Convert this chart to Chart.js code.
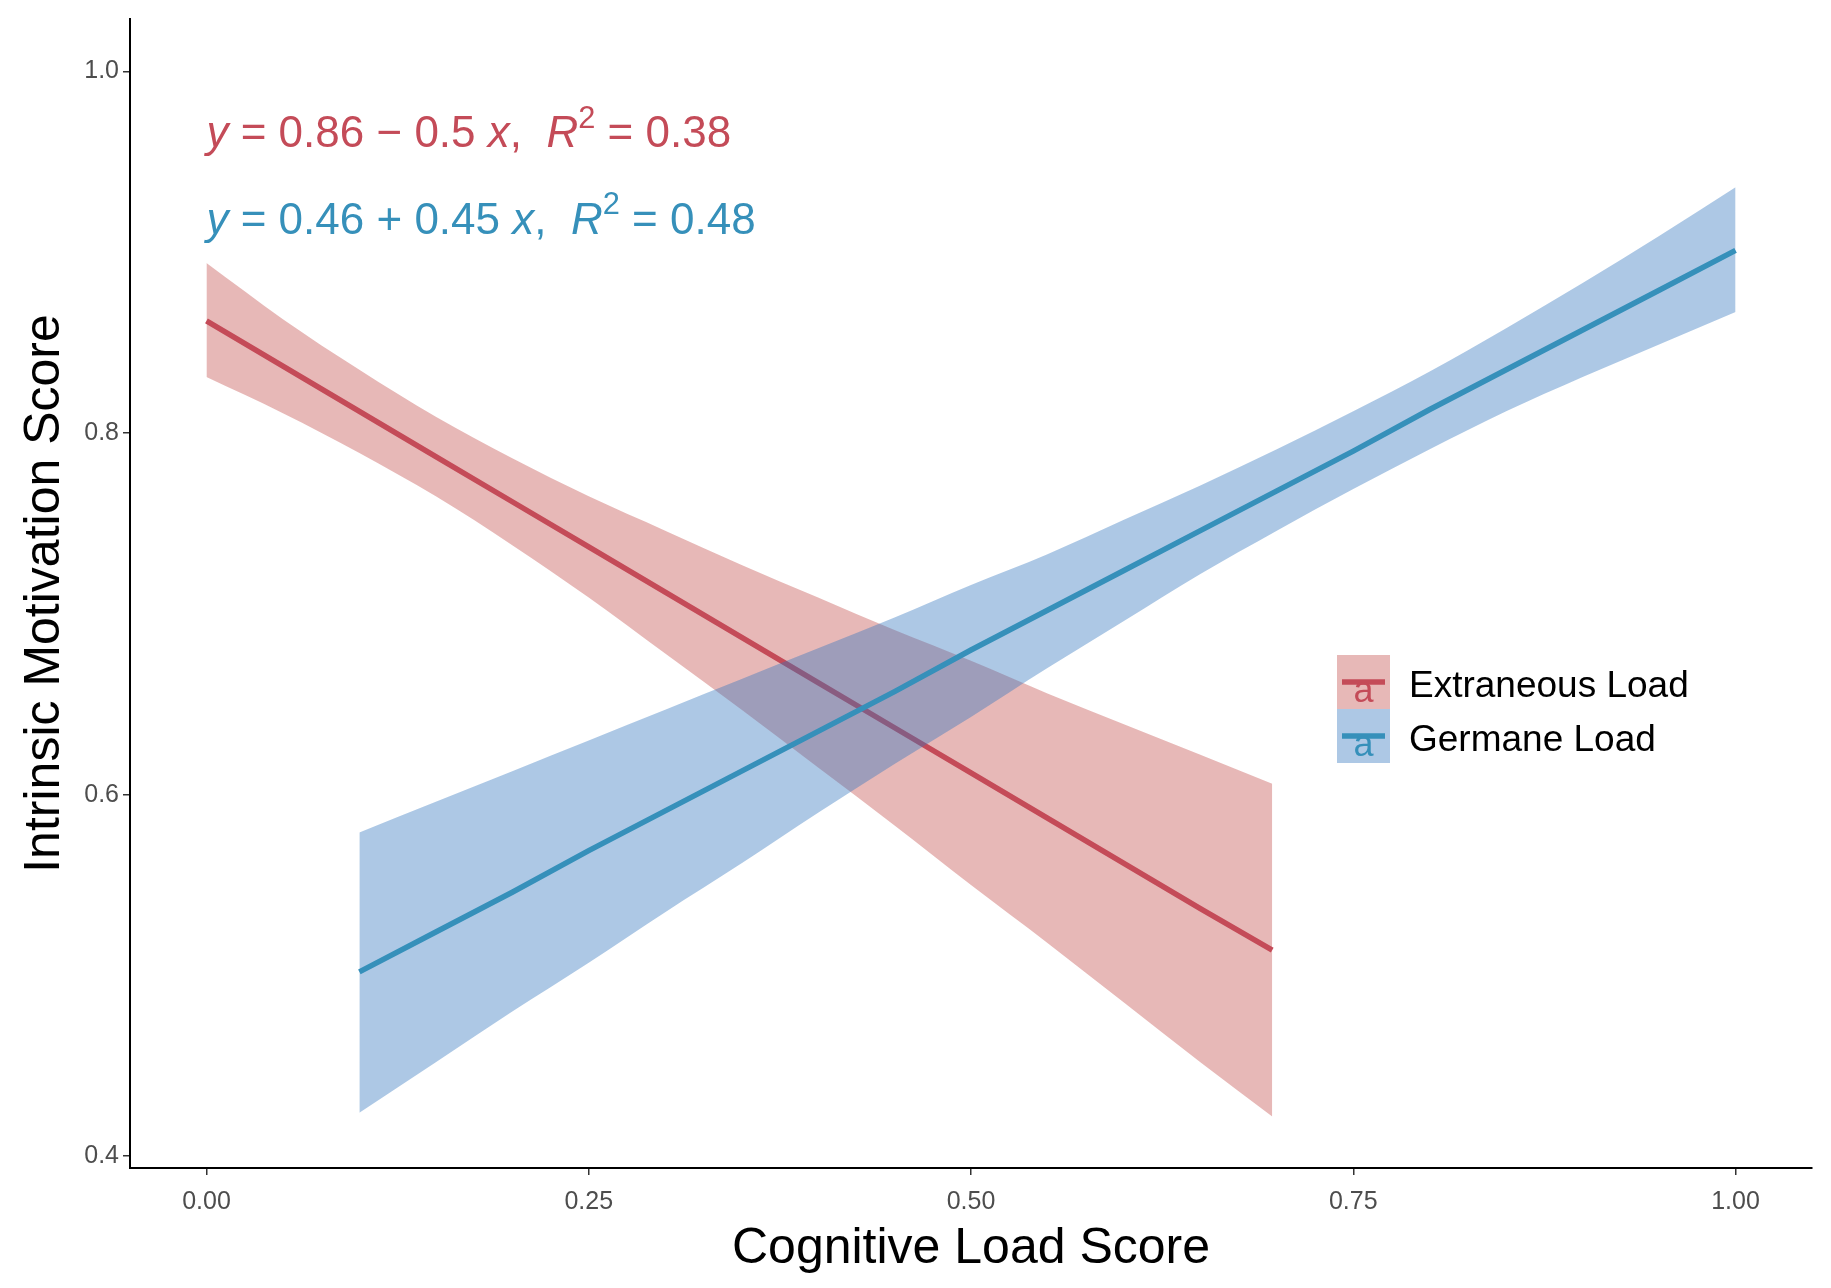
<!DOCTYPE html>
<html>
<head>
<meta charset="utf-8">
<script src="https://cdn.jsdelivr.net/npm/chart.js@4.4.1/dist/chart.umd.min.js"></script>
<style>
  html, body { margin: 0; padding: 0; background: #fff; }
</style>
</head>
<body>
<canvas id="myChart" width="1831" height="1288"></canvas>
<script>
const FONT = '"Liberation Sans", Arial, Helvetica, sans-serif';

// series names / colours
const seriesNames = ["Extraneous Load", "Germane Load"];
const lineColors = ["#c44b58", "#3690ba"];
const bandColors = ["rgba(195, 78, 75, 0.4)", "rgba(50, 118, 190, 0.4)"];

// Extraneous Load: fitted line and 95% band
const xExtraneous = [0, 0.05, 0.1, 0.15, 0.2, 0.25, 0.3, 0.35, 0.4, 0.45, 0.5, 0.55, 0.6, 0.65, 0.697];
const fitExtraneous = [0.862, 0.837, 0.812, 0.787, 0.762, 0.737, 0.712, 0.687, 0.662, 0.637, 0.612, 0.587, 0.562, 0.537, 0.514];
const upperExtraneous = [0.894, 0.863, 0.835, 0.809, 0.786, 0.765, 0.746, 0.727, 0.709, 0.691, 0.674, 0.656, 0.639, 0.622, 0.606];
const lowerExtraneous = [0.831, 0.811, 0.789, 0.765, 0.738, 0.709, 0.678, 0.647, 0.615, 0.583, 0.550, 0.518, 0.485, 0.452, 0.422];

// Germane Load
const xGermane = [0.1, 0.15, 0.2, 0.25, 0.3, 0.35, 0.4, 0.45, 0.5, 0.55, 0.6, 0.65, 0.7, 0.75, 0.8, 0.85, 0.9, 0.95, 1.0];
const fitGermane = [0.502, 0.524, 0.546, 0.569, 0.591, 0.613, 0.635, 0.657, 0.680, 0.702, 0.724, 0.746, 0.768, 0.790, 0.813, 0.835, 0.857, 0.879, 0.901];
const upperGermane = [0.579, 0.596, 0.613, 0.630, 0.647, 0.664, 0.681, 0.698, 0.716, 0.733, 0.752, 0.771, 0.791, 0.812, 0.834, 0.858, 0.883, 0.909, 0.936];
const lowerGermane = [0.424, 0.452, 0.480, 0.507, 0.535, 0.562, 0.590, 0.617, 0.643, 0.670, 0.696, 0.722, 0.746, 0.769, 0.791, 0.812, 0.831, 0.849, 0.867];

// regression equations (text pieces: it = italic, sup = superscript)
const eqExtraneous = [{t: "y", it: 1}, {t: " = 0.86 \u2212 0.5 "}, {t: "x", it: 1}, {t: ",  "}, {t: "R", it: 1}, {t: "2", sup: 1}, {t: " = 0.38"}];
const eqGermane = [{t: "y", it: 1}, {t: " = 0.46 + 0.45 "}, {t: "x", it: 1}, {t: ",  "}, {t: "R", it: 1}, {t: "2", sup: 1}, {t: " = 0.48"}];

const toPoints = (xs, ys) => xs.map((v, i) => ({x: v, y: ys[i]}));

function edge(xs, ys, fill, color, order) {
    return {
        data: toPoints(xs, ys),
        borderWidth: 0,
        pointRadius: 0,
        cubicInterpolationMode: "monotone",
        fill: fill,
        backgroundColor: color,
        order: order
    };
}

function fitLine(xs, ys, color, order) {
    return {
        data: toPoints(xs, ys),
        borderColor: color,
        borderWidth: 5.5,
        pointRadius: 0,
        fill: false,
        order: order
    };
}

function drawPieces(ctx, pieces, x0, yb, size, color) {
    let x = x0;
    ctx.fillStyle = color;
    ctx.textBaseline = "alphabetic";
    ctx.textAlign = "left";
    pieces.forEach(p => {
        const fs = p.sup ? size * 0.7 : size;
        ctx.font = (p.it ? "italic " : "") + fs + "px " + FONT;
        const yy = p.sup ? yb - size * 0.45 : yb;
        ctx.fillText(p.t, x, yy);
        x += ctx.measureText(p.t).width;
    });
}

const annotations = {
    id: "annotations",
    afterDraw(chart) {
        const {ctx, scales: {x, y}} = chart;
        ctx.save();
        // equations, anchored at x = 0
        const left = x.getPixelForValue(0);
        drawPieces(ctx, eqExtraneous, left, y.getPixelForValue(0.958), 44, lineColors[0]);
        drawPieces(ctx, eqGermane, left, y.getPixelForValue(0.910), 44, lineColors[1]);

        // legend
        const keyX = 1337, keyW = 53, keyH = 54, top = 655;
        seriesNames.forEach((name, i) => {
            const ky = top + i * keyH;
            ctx.fillStyle = "#fff";
            ctx.fillRect(keyX, ky, keyW, keyH);
            ctx.fillStyle = bandColors[i];
            ctx.fillRect(keyX, ky, keyW, keyH);
            ctx.strokeStyle = lineColors[i];
            ctx.lineWidth = 5.5;
            ctx.beginPath();
            ctx.moveTo(keyX + 5, ky + keyH / 2);
            ctx.lineTo(keyX + keyW - 5, ky + keyH / 2);
            ctx.stroke();
            ctx.fillStyle = lineColors[i];
            ctx.font = "36px " + FONT;
            ctx.textAlign = "center";
            ctx.textBaseline = "alphabetic";
            ctx.fillText("a", keyX + keyW / 2, ky + 47);
            ctx.fillStyle = "#000";
            ctx.textAlign = "left";
            ctx.font = "37px " + FONT;
            ctx.fillText(name, 1409, ky + 42);
        });
        ctx.restore();
    }
};

Chart.defaults.font.family = FONT;

const ctx = document.getElementById("myChart").getContext("2d");

const myChart = new Chart(ctx, {
    type: "line",
    data: {
        datasets: [
            edge(xExtraneous, upperExtraneous, "+1", bandColors[0], 4),
            edge(xExtraneous, lowerExtraneous, false, bandColors[0], 4),
            fitLine(xExtraneous, fitExtraneous, lineColors[0], 3),
            edge(xGermane, upperGermane, "+1", bandColors[1], 2),
            edge(xGermane, lowerGermane, false, bandColors[1], 2),
            fitLine(xGermane, fitGermane, lineColors[1], 1)
        ]
    },
    options: {
        responsive: false,
        animation: false,
        events: [],
        layout: { padding: { top: 17, right: 19, left: 0, bottom: 0 } },
        plugins: {
            legend: { display: false },
            tooltip: { enabled: false }
        },
        scales: {
            x: {
                type: "linear",
                min: -0.05,
                max: 1.05,
                border: { display: true, color: "#000", width: 2 },
                grid: { drawOnChartArea: false, drawTicks: true, tickLength: 7, color: "#333", lineWidth: 1.5 },
                ticks: {
                    stepSize: 0.25,
                    includeBounds: false,
                    padding: 12,
                    color: "#4d4d4d",
                    font: { size: 25 },
                    maxRotation: 0,
                    autoSkip: false,
                    callback: v => v.toFixed(2)
                },
                title: {
                    display: true,
                    text: "Cognitive Load Score",
                    color: "#000",
                    font: { size: 50 },
                    padding: { top: 0, bottom: 9 }
                },
                afterFit: s => { s.height = 120; }
            },
            y: {
                type: "linear",
                min: 0.3935,
                max: 1.029,
                border: { display: true, color: "#000", width: 2 },
                grid: { drawOnChartArea: false, drawTicks: true, tickLength: 7, color: "#333", lineWidth: 1.5 },
                ticks: {
                    stepSize: 0.2,
                    includeBounds: false,
                    padding: 4,
                    color: "#4d4d4d",
                    font: { size: 25 },
                    callback: v => v.toFixed(1)
                },
                title: {
                    display: true,
                    text: "Intrinsic Motivation Score",
                    color: "#000",
                    font: { size: 50 },
                    padding: { top: 15, bottom: 0 }
                },
                afterFit: s => { s.width = 130; }
            }
        }
    },
    plugins: [annotations]
});
</script>
</body>
</html>
